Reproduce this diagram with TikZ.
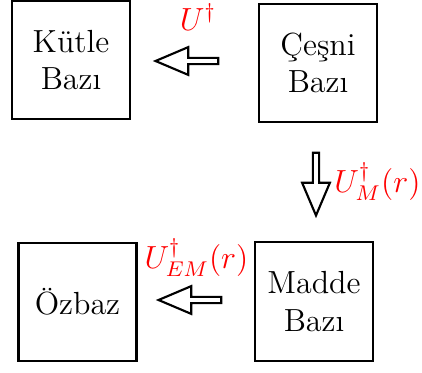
\documentclass[tikz,border=0pt]{standalone}
\usetikzlibrary{positioning,shapes.arrows}

\begin{document}
\begin{tikzpicture}[
    x=0.375pt, y=-0.375pt,
    box/.style={draw, thick, font=\large, minimum width=44.25pt, minimum height=44.5pt, align=center, inner sep=0pt},
    blockarr/.style={draw, thick, single arrow, inner sep=0pt, minimum width=10.4pt,
        single arrow head extend=1.4pt, single arrow tip angle=46, minimum height=23.5pt},
    lbl/.style={text=red, font=\large, inner sep=0pt}
]
\useasboundingbox (0,0) rectangle (422,372);

\node[box] (kutle) at (71,60) {Kütle\\Bazı};
\node[box] (cesni) at (318,63) {Çeşni\\Bazı};
\node[box] (ozbaz) at (77.5,302) {Özbaz};
\node[box] (madde) at (314,301.5) {Madde\\Bazı};

\node[blockarr, rotate=180] (ust) at (190.5,61) {};
\node[blockarr, rotate=-90] (sag) at (316,180.5) {};
\node[blockarr, rotate=180] (alt) at (193.5,300) {};

\node[lbl] (uust) at (198,17) {$U^\dagger$};
\node[lbl, anchor=east] (usag) at (421,182) {$U_M^\dagger(r)$};
\node[lbl] (ualt) at (196.5,258) {$U_{EM}^\dagger(r)$};
\end{tikzpicture}
\end{document}
